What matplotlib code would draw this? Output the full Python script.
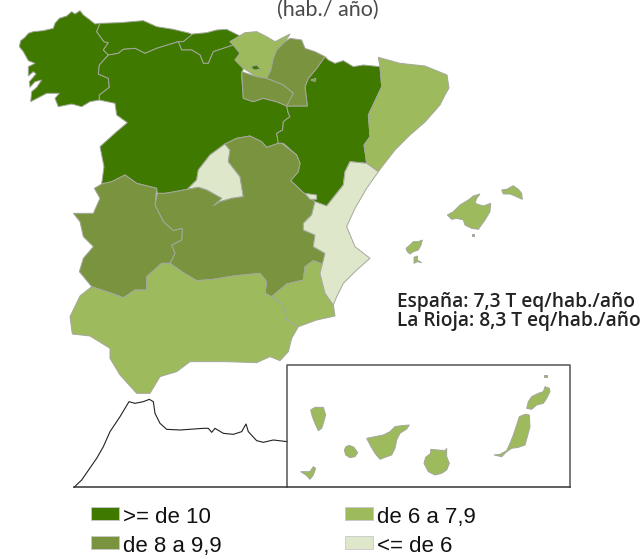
import matplotlib
matplotlib.use('Agg')
import matplotlib.pyplot as plt
from matplotlib.patches import Polygon, Rectangle

# contornos, 3 unidades = 1 pixel
galicia = [(58,140),(62,122),(75,112),(85,100),(100,95),(130,92),(160,85),(165,70),(178,55),(200,48),(215,35),(225,42),(240,32),(250,45),(270,60),(285,72),(300,70),(290,95),(312,125),(325,128),(310,150),(325,165),(298,195),(295,222),(325,235),(328,262),(298,285),(298,300),(270,305),(245,320),(215,312),(175,320),(165,295),(178,280),(140,280),(92,305),(95,275),(110,262),(125,240),(105,245),(90,262),(88,245),(108,222),(100,215),(85,228),(85,200),(105,190),(85,182),(70,155)]
asturias = [(300,70),(360,68),(430,62),(470,80),(520,88),(570,100),(578,105),(550,125),(535,125),(470,145),(435,160),(405,145),(370,148),(355,160),(325,165),(310,150),(325,128),(312,125),(290,95)]
cantabria = [(578,102),(620,98),(650,90),(680,88),(720,108),(690,125),(700,135),(640,155),(625,190),(610,190),(600,165),(575,150),(545,150),(535,125),(550,125)]
castilla_leon = [(325,165),(355,160),(370,148),(405,145),(435,160),(470,145),(535,125),(545,150),(575,150),(600,165),(610,190),(625,190),(640,155),(700,135),(720,160),(705,180),(730,205),(725,225),(730,295),(760,305),(790,295),(830,305),(860,318),(865,340),(870,350),(850,365),(848,390),(830,400),(835,430),(800,442),(785,425),(750,408),(710,415),(675,432),(630,465),(595,510),(590,540),(562,568),(525,575),(495,580),(472,580),(470,565),(410,550),(375,525),(335,545),(305,552),(312,500),(300,440),(350,395),(382,368),(350,345),(345,310),(298,300),(298,285),(328,262),(325,235),(295,222),(298,195)]
pais_vasco = [(690,125),(735,98),(770,95),(800,110),(825,125),(870,102),(855,125),(830,150),(820,175),(812,212),(800,235),(770,230),(730,205),(705,180),(720,160),(700,135)]
navarra = [(870,115),(905,120),(915,145),(945,155),(975,170),(950,205),(925,235),(915,260),(922,318),(860,318),(858,312),(880,280),(850,255),(800,235),(812,212),(820,175),(830,150),(855,125)]
rioja = [(725,215),(770,230),(800,235),(850,255),(880,280),(860,318),(830,305),(790,295),(760,305),(730,295)]
trevino = [(752,200),(770,195),(782,208),(762,210)]
petilla = [(932,240),(948,235),(945,245)]
aragon = [(975,170),(985,180),(1005,190),(1030,182),(1060,200),(1090,195),(1140,200),(1145,260),(1105,345),(1110,410),(1092,435),(1100,490),(1050,485),(1035,515),(1030,555),(980,618),(945,605),(910,578),(872,542),(895,515),(900,490),(890,465),(850,430),(835,430),(830,400),(848,390),(850,365),(870,350),(865,340),(860,318),(922,318),(915,260),(925,235),(950,205)]
cataluna = [(1135,172),(1200,190),(1275,198),(1341,225),(1347,264),(1335,285),(1320,315),(1275,366),(1230,405),(1185,450),(1150,495),(1135,515),(1100,490),(1092,435),(1110,410),(1105,345),(1145,260),(1140,200)]
madrid = [(675,432),(690,450),(685,485),(720,530),(730,590),(695,595),(660,605),(640,618),(665,595),(620,570),(595,562),(562,568),(590,540),(595,510),(630,465)]
castilla_mancha = [(675,432),(710,415),(750,408),(785,425),(800,442),(835,430),(845,430),(890,465),(900,490),(895,515),(872,542),(910,578),(945,605),(935,645),(910,670),(910,690),(945,705),(940,740),(975,760),(975,795),(940,782),(915,800),(910,840),(860,852),(815,890),(795,880),(800,845),(780,820),(700,828),(640,838),(590,842),(545,815),(510,790),(525,760),(515,735),(545,720),(547,685),(520,692),(490,665),(465,615),(472,580),(495,580),(525,575),(562,568),(595,562),(620,570),(665,595),(640,618),(660,605),(695,595),(730,590),(720,530),(685,485),(690,450)]
extremadura = [(305,552),(335,545),(375,525),(410,550),(470,565),(465,615),(490,665),(520,692),(547,685),(545,720),(515,735),(525,760),(510,790),(485,790),(440,830),(440,870),(405,870),(370,893),(335,880),(275,860),(238,815),(250,775),(280,740),(250,710),(240,665),(220,640),(280,640),(300,595),(283,565)]
andalucia = [(275,860),(335,880),(370,893),(405,870),(440,870),(440,830),(485,790),(510,790),(545,815),(590,842),(640,838),(700,828),(780,820),(800,845),(795,880),(815,890),(850,915),(860,960),(895,980),(875,1015),(865,1055),(840,1082),(810,1070),(770,1088),(680,1085),(570,1085),(530,1115),(480,1130),(450,1180),(410,1180),(360,1125),(330,1075),(330,1045),(270,1008),(217,1002),(210,950),(240,888)]
murcia = [(815,890),(860,852),(910,840),(915,800),(940,782),(975,795),(960,820),(975,880),(1000,915),(1005,948),(950,960),(895,980),(860,960),(850,915)]
valencia = [(1050,485),(1100,490),(1135,515),(1100,565),(1065,625),(1040,680),(1065,740),(1110,775),(1070,810),(1030,850),(1010,890),(1000,915),(975,880),(960,820),(975,760),(940,740),(945,705),(910,690),(910,670),(935,645),(945,605),(980,618),(1030,555),(1035,515)]
ademuz = [(915,580),(950,585),(950,598),(930,598)]
mallorca = [(1342,645),(1360,635),(1380,615),(1405,600),(1420,588),(1440,582),(1430,595),(1425,610),(1450,618),(1472,610),(1470,635),(1455,660),(1435,688),(1415,685),(1395,675),(1390,660),(1370,655),(1355,658)]
cabrera = [(1416,702),(1422,702),(1422,708),(1416,708)]
menorca = [(1505,570),(1520,568),(1540,557),(1555,568),(1565,580),(1567,598),(1545,588),(1530,582),(1510,582)]
ibiza = [(1218,745),(1230,735),(1240,725),(1255,725),(1267,720),(1263,735),(1255,750),(1240,755),(1230,762),(1222,755)]
formentera = [(1242,772),(1252,768),(1252,780),(1265,788),(1252,785),(1242,790)]
la_palma = [(932,1230),(945,1222),(970,1222),(977,1245),(970,1270),(965,1285),(955,1292),(945,1270),(937,1250)]
el_hierro = [(902,1415),(915,1415),(930,1415),(940,1400),(947,1405),(940,1425),(930,1438),(918,1425)]
la_gomera = [(1033,1350),(1038,1340),(1048,1336),(1062,1342),(1073,1358),(1065,1370),(1050,1373),(1037,1365)]
tenerife = [(1100,1315),(1125,1310),(1150,1305),(1170,1295),(1185,1280),(1205,1277),(1228,1275),(1220,1287),(1200,1300),(1190,1320),(1185,1345),(1175,1365),(1155,1372),(1140,1378),(1125,1360),(1112,1338)]
gran_canaria = [(1272,1390),(1277,1372),(1292,1360),(1292,1348),(1315,1350),(1335,1352),(1340,1345),(1340,1370),(1348,1390),(1340,1410),(1325,1420),(1305,1425),(1285,1415)]
fuerteventura = [(1482,1365),(1500,1363),(1520,1352),(1530,1330),(1540,1305),(1550,1275),(1558,1250),(1575,1243),(1588,1245),(1590,1280),(1582,1310),(1575,1335),(1555,1342),(1535,1345),(1520,1355),(1505,1370)]
lanzarote = [(1580,1225),(1585,1205),(1595,1190),(1615,1180),(1630,1175),(1635,1160),(1648,1165),(1650,1175),(1640,1195),(1630,1210),(1610,1215),(1595,1228)]
alegranza = [(1633,1125),(1640,1125),(1640,1132),(1633,1132)]

costa_x = [222,245,290,310,330,360,387,405,430,448,460,465,480,500,540,610,625,635,645,670,700,725,738,745,770,790,820,862]
costa_y = [1462,1440,1375,1340,1295,1250,1205,1210,1205,1198,1205,1240,1270,1288,1290,1285,1285,1297,1285,1300,1303,1295,1272,1295,1322,1327,1320,1325]

regiones = [
    (galicia, 'alto'), (asturias, 'alto'), (cantabria, 'alto'), (castilla_leon, 'alto'), (aragon, 'alto'),
    (pais_vasco, 'medio_bajo'), (navarra, 'medio'), (rioja, 'medio'), (trevino, 'alto'), (petilla, 'medio'),
    (cataluna, 'medio_bajo'), (madrid, 'bajo'), (castilla_mancha, 'medio'), (extremadura, 'medio'),
    (andalucia, 'medio_bajo'), (murcia, 'medio_bajo'), (valencia, 'bajo'), (ademuz, 'bajo'),
    (mallorca, 'medio_bajo'), (cabrera, 'medio_bajo'), (menorca, 'medio_bajo'), (ibiza, 'medio_bajo'), (formentera, 'medio_bajo'),
    (la_palma, 'medio_bajo'), (el_hierro, 'medio_bajo'), (la_gomera, 'medio_bajo'), (tenerife, 'medio_bajo'),
    (gran_canaria, 'medio_bajo'), (fuerteventura, 'medio_bajo'), (lanzarote, 'medio_bajo'), (alegranza, 'medio_bajo'),
]
colores = {'alto': '#3F7900', 'medio': '#7A933E', 'medio_bajo': '#9DBA5C', 'bajo': '#DFE7CB'}
leyenda = [('alto', '>= de 10', 91, 507), ('medio', 'de 8 a 9,9', 91, 536),
           ('medio_bajo', 'de 6 a 7,9', 345, 507), ('bajo', '<= de 6', 345, 536)]

fig = plt.figure(figsize=(6.44, 5.56), dpi=100)
ax = fig.add_axes([0, 0, 1, 1])
ax.set_xlim(0, 1932)
ax.set_ylim(1668, 0)
ax.axis('off')

for contorno, clase in regiones:
    ax.add_patch(Polygon(contorno, closed=True, facecolor=colores[clase], edgecolor='#A3A89B', linewidth=0.7))

ax.plot(costa_x, costa_y, color='#222222', linewidth=0.8)
ax.plot([861, 861, 1710, 1710], [1461, 1095, 1095, 1461], color='#555555', linewidth=1.1)
ax.plot([222, 1710], [1461, 1461], color='#333333', linewidth=1.1)

for clase, etiqueta, x, y in leyenda:
    ax.add_patch(Rectangle((x * 3, y * 3), 84, 39, facecolor=colores[clase], edgecolor='#C8C8C8', linewidth=0.6))
    ax.text(x * 3 + 95, y * 3 + 32, etiqueta, fontsize=16, family='Liberation Sans', color='#111111', va='center')

ax.text(982, 48, '(hab./ año)', fontsize=15.5, family='Lato', color='#4A4A4A', ha='center', va='baseline')
ax.text(1191, 906, 'España: 7,3 T eq/hab./año', fontsize=13.8, family='Open Sans', weight='semibold', color='#222222', va='center')
ax.text(1191, 963, 'La Rioja: 8,3 T eq/hab./año', fontsize=13.8, family='Open Sans', weight='semibold', color='#222222', va='center')

fig.savefig('out.png', dpi=100)
